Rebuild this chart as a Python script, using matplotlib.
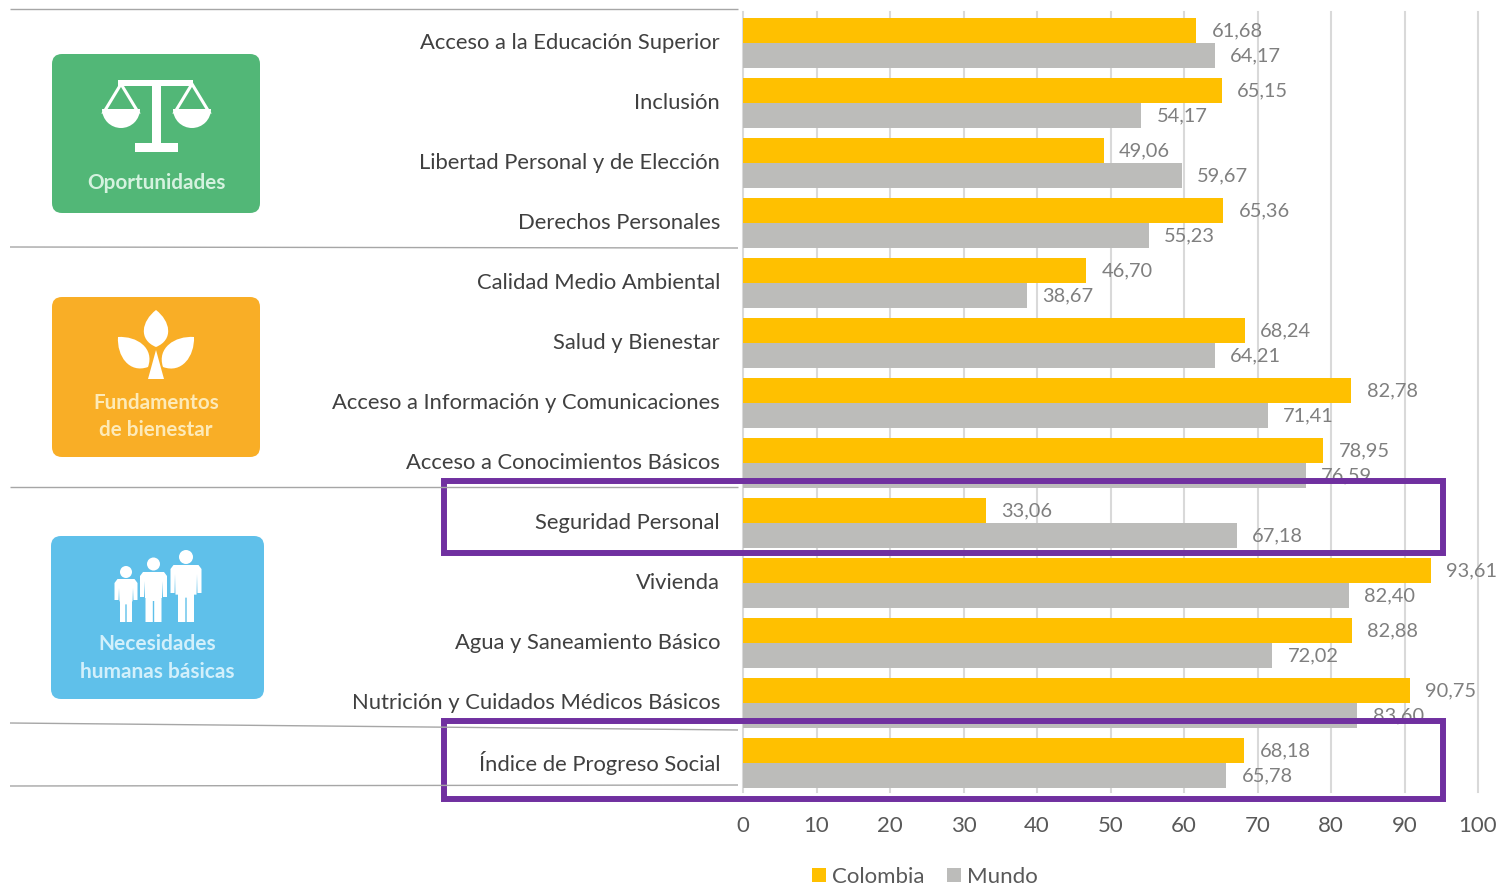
import numpy as np
from matplotlib import pyplot as plt
from matplotlib.patches import FancyBboxPatch, Rectangle, Circle, Polygon, PathPatch, Wedge
from matplotlib.path import Path
from matplotlib.transforms import ScaledTranslation

plt.rcParams['font.family'] = ['Lato', 'DejaVu Sans']

categories = ['Acceso a la Educación Superior', 'Inclusión', 'Libertad Personal y de Elección',
              'Derechos Personales', 'Calidad Medio Ambiental', 'Salud y Bienestar',
              'Acceso a Información y Comunicaciones', 'Acceso a Conocimientos Básicos',
              'Seguridad Personal', 'Vivienda', 'Agua y Saneamiento Básico',
              'Nutrición y Cuidados Médicos Básicos', 'Índice de Progreso Social']
colombia = [61.68, 65.15, 49.06, 65.36, 46.70, 68.24, 82.78, 78.95, 33.06, 93.61, 82.88, 90.75, 68.18]
mundo = [64.17, 54.17, 59.67, 55.23, 38.67, 64.21, 71.41, 76.59, 67.18, 82.40, 72.02, 83.60, 65.78]
x_ticks = [0, 10, 20, 30, 40, 50, 60, 70, 80, 90, 100]

W, H = 1499, 886
YELLOW = '#ffc000'
GREY = '#bcbcba'
TEXT = '#595959'
PURPLE = '#7030a0'

fig = plt.figure(figsize=(W / 100, H / 100), dpi=100)
ax = fig.add_axes([743 / W, 1 - 792 / H, (1478 - 743) / W, 780 / H])

y = np.arange(len(categories))
h = 25 / 60
ax.barh(y - h / 2, colombia, h, color=YELLOW, label='Colombia', zorder=3)
ax.barh(y + h / 2, mundo, h, color=GREY, label='Mundo', zorder=3)

for i in y:
    for val, off in ((colombia[i], -h / 2), (mundo[i], h / 2)):
        ax.annotate(f'{val:.2f}'.replace('.', ','), (val, i + off), xytext=(11, -0.7),
                    textcoords='offset points', va='center', ha='left',
                    fontsize=14.4, color='#7f7f7f', zorder=4)

ax.set_xlim(0, 100)
ax.set_ylim(len(categories) - 0.5 - 0.0125, -0.5 - 0.0125)
ax.set_xticks(x_ticks)
ax.set_yticks(y)
ax.set_yticklabels(categories)
ax.tick_params(axis='y', length=0, pad=16.5, labelsize=15.8, labelcolor='#404040')
ax.tick_params(axis='x', length=0, pad=17, labelsize=16, labelcolor=TEXT)
ax.grid(axis='x', color='#d9d9d9', lw=1.5, zorder=0)
ax.set_axisbelow(True)
for s in ax.spines.values():
    s.set_visible(False)
for gl in ax.get_xgridlines():
    gl.set_clip_on(False)
nudge = ScaledTranslation(0, 1 / 72, fig.dpi_scale_trans)
for lbl in ax.get_yticklabels():
    lbl.set_transform(lbl.get_transform() + nudge)

fig.legend(loc='center left', bbox_to_anchor=(812 / W, 1 - 877 / H), ncol=2, frameon=False, fontsize=16,
           handlelength=0.63, handleheight=0.63, handletextpad=0.27, columnspacing=1.0,
           borderpad=0, borderaxespad=0, labelcolor=TEXT)

# overlay in pixel coordinates for the decorations
ov = fig.add_axes([0, 0, 1, 1], zorder=5)
ov.set_xlim(0, W)
ov.set_ylim(H, 0)
ov.axis('off')
ov.patch.set_alpha(0)


def sep(x0, y0, x1, y1):
    ov.plot([x0, x1], [y0, y1], color='#a6a6a6', lw=1.0, solid_capstyle='butt')


sep(10, 9, 738, 9)
sep(10, 247, 738, 248)
sep(10, 487, 738, 487)
sep(10, 723, 738, 730)
sep(10, 786, 738, 785)


def card(x0, y0, x1, y1, color):
    ov.add_patch(FancyBboxPatch((x0 + 10, y0 + 10), x1 - x0 - 20, y1 - y0 - 20,
                                boxstyle='round,pad=10,rounding_size=10', fc=color, ec='none'))


def leaf(tip, base, bulge):
    tip = np.array(tip, float)
    base = np.array(base, float)
    d = tip - base
    n = np.array([-d[1], d[0]]) / np.hypot(*d) * bulge
    verts = [base, base + 0.2 * d + n, tip - 0.3 * d + 0.8 * n, tip,
             tip - 0.3 * d - 0.8 * n, base + 0.2 * d - n, base]
    codes = [Path.MOVETO] + [Path.CURVE4] * 6
    ov.add_patch(PathPatch(Path(verts, codes), fc='white', ec='none'))


def person(cx, top, arm, bottom, s, leg):
    hip = top + (bottom - top) * 0.52
    pts = [(cx - s + 3, top), (cx + s - 3, top), (cx + s, top + 4), (cx + s, arm),
           (cx + s - 4, arm), (cx + s - 4.5, top + 9), (cx + s - 5, hip), (cx + leg, hip), (cx + leg, bottom),
           (cx + 0.7, bottom), (cx + 0.7, hip + 3), (cx - 0.7, hip + 3), (cx - 0.7, bottom),
           (cx - leg, bottom), (cx - leg, hip), (cx - s + 5, hip), (cx - s + 4.5, top + 9), (cx - s + 4, arm),
           (cx - s, arm), (cx - s, top + 4)]
    ov.add_patch(Polygon(pts, fc='white', ec='none'))


# Oportunidades
card(52, 54, 260, 213, '#52b777')
ov.add_patch(Rectangle((118, 80), 75, 6, fc='white'))
ov.add_patch(Rectangle((152, 80), 9, 66, fc='white'))
ov.add_patch(Rectangle((135, 143), 43, 9, fc='white'))
for cx in (121, 192):
    ov.add_patch(Polygon([(cx, 84), (cx - 17, 112), (cx + 17, 112)], fc='none', ec='white', lw=2.2))
    ov.add_patch(Wedge((cx, 109), 19, 0, 180, fc='white', ec='none'))
ov.text(156, 183, 'Oportunidades', color='#d5f2df', fontsize=14.9, fontweight='bold', ha='center', va='center')

# Fundamentos de bienestar
card(52, 297, 260, 457, '#f9ae26')
leaf((156, 310), (156, 347), 18)
leaf((118, 337), (148, 367), 18)
leaf((194, 337), (163, 367), 18)
ov.add_patch(Polygon([(156, 350), (148, 379), (164, 379)], fc='white', ec='none'))
ov.text(156, 403, 'Fundamentos', color='#fdeab8', fontsize=14.9, fontweight='bold', ha='center', va='center')
ov.text(156, 430, 'de bienestar', color='#fdeab8', fontsize=14.9, fontweight='bold', ha='center', va='center')

# Necesidades humanas basicas
card(51, 536, 264, 699, '#5fc0ea')
for cx, head, r, top, arm, s, leg in ((126, 572, 6, 579, 600, 11.5, 6),
                                      (153.5, 564, 6.5, 572, 597, 13.5, 8),
                                      (186, 557, 7, 565, 593, 15.5, 8)):
    ov.add_patch(Circle((cx, head), r, fc='white', ec='none'))
    person(cx, top, arm, 622, s, leg)
ov.text(157, 644, 'Necesidades', color='#d3f0fb', fontsize=15, fontweight='bold', ha='center', va='center')
ov.text(157, 672, 'humanas básicas', color='#d3f0fb', fontsize=15, fontweight='bold', ha='center', va='center')

# highlight boxes
ov.add_patch(Rectangle((444, 481), 999, 71.5, fc='none', ec=PURPLE, lw=4.3))
ov.add_patch(Rectangle((444, 721), 999, 78, fc='none', ec=PURPLE, lw=4.3))

fig.savefig('out.png', dpi=100)
